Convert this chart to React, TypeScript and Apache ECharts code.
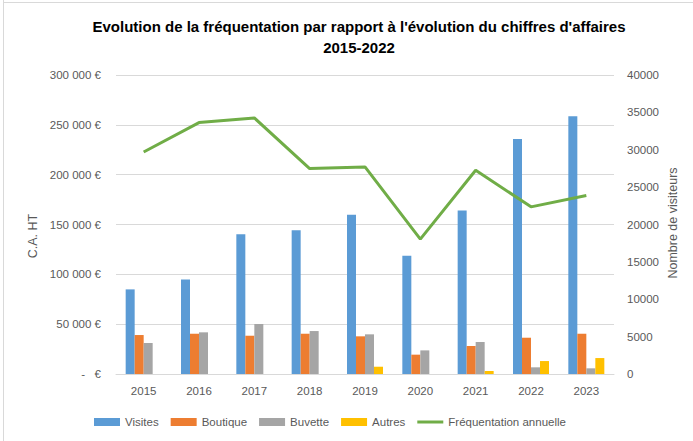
import React, { useEffect, useRef } from "react";
import * as echarts from "echarts";

const years = ["2015", "2016", "2017", "2018", "2019", "2020", "2021", "2022", "2023"];
const visites = [84900, 94900, 140300, 144300, 159700, 118600, 164000, 235900, 258600];
const boutique = [39100, 40400, 38400, 40400, 37800, 19400, 28100, 36400, 40400];
const buvette = [31100, 41800, 50100, 43100, 39800, 23700, 32100, 6700, 5700];
const autres = [0, 0, 0, 0, 7300, 0, 3000, 13000, 16000];
const frequentation = [29700, 33630, 34250, 27480, 27700, 18040, 27260, 22360, 23870];

const titleText = "Evolution de la fréquentation par rapport à l'évolution du chiffres d'affaires\n2015-2022";
const leftAxisName = "C.A. HT";
const rightAxisName = "Nombre de visiteurs";

const FONT = "'Liberation Sans', Arial, sans-serif";
const GRAY_TEXT = "#595959";

function euro(v: number): string {
  if (v === 0) return "-   €";
  return String(v).replace(/\B(?=(\d{3})+(?!\d))/g, " ") + " €";
}

export default function App() {
  const ref = useRef<HTMLDivElement>(null);
  useEffect(() => {
    if (!ref.current) return;
    const chart = echarts.init(ref.current, undefined, { renderer: "svg" });
    const barBase = { type: "bar" as const, barWidth: 9, barGap: "0%", yAxisIndex: 0 };
    chart.setOption({
      animation: false,
      backgroundColor: "#ffffff",
      textStyle: { fontFamily: FONT },
      title: {
        text: titleText,
        left: 354,
        top: 11,
        textAlign: "center",
        textStyle: { fontFamily: FONT, fontSize: 15, fontWeight: "bold", color: "#000", lineHeight: 21 },
      },
      grid: { left: 116, top: 75, width: 498, height: 299 },
      legend: {
        left: 89,
        top: 411,
        itemWidth: 26,
        itemHeight: 8,
        itemGap: 12,
        textStyle: { fontFamily: FONT, fontSize: 11.5, color: GRAY_TEXT },
        data: [
          { name: "Visites", icon: "rect" },
          { name: "Boutique", icon: "rect" },
          { name: "Buvette", icon: "rect" },
          { name: "Autres", icon: "rect" },
          { name: "Fréquentation annuelle", icon: "path://M0,0 L26,0 L26,3 L0,3 Z" },
        ],
      },
      xAxis: {
        type: "category",
        data: years,
        axisLine: { lineStyle: { color: "#d9d9d9", width: 1 } },
        axisTick: { show: false },
        axisLabel: { color: GRAY_TEXT, fontSize: 11.5, margin: 11, fontFamily: FONT },
      },
      yAxis: [
        {
          type: "value",
          min: 0,
          max: 300000,
          interval: 50000,
          axisLabel: { color: GRAY_TEXT, fontSize: 11.5, margin: 15, formatter: euro, fontFamily: FONT },
          splitLine: { lineStyle: { color: "#d9d9d9", width: 1 } },
          axisLine: { show: false },
          axisTick: { show: false },
        },
        {
          type: "value",
          min: 0,
          max: 40000,
          interval: 5000,
          position: "right",
          axisLabel: { color: GRAY_TEXT, fontSize: 11.5, margin: 13, fontFamily: FONT, formatter: (v: number) => String(v) },
          splitLine: { show: false },
          axisLine: { show: false },
          axisTick: { show: false },
        },
      ],
      series: [
        { ...barBase, name: "Visites", data: visites, itemStyle: { color: "#5b9bd5" } },
        { ...barBase, name: "Boutique", data: boutique, itemStyle: { color: "#ed7d31" } },
        { ...barBase, name: "Buvette", data: buvette, itemStyle: { color: "#a5a5a5" } },
        { ...barBase, name: "Autres", data: autres, itemStyle: { color: "#ffc000" } },
        {
          type: "line",
          name: "Fréquentation annuelle",
          yAxisIndex: 1,
          data: frequentation,
          symbol: "none",
          lineStyle: { color: "#70ad47", width: 3 },
          itemStyle: { color: "#70ad47" },
        },
      ],
      graphic: [
        { type: "line", shape: { x1: 3.5, y1: 0, x2: 3.5, y2: 441 }, style: { stroke: "#d9d9d9", lineWidth: 1 } },
        { type: "line", shape: { x1: 3, y1: 2.5, x2: 693, y2: 2.5 }, style: { stroke: "#d9d9d9", lineWidth: 1 } },
        {
          type: "text",
          x: 33,
          y: 236,
          rotation: Math.PI / 2,
          style: { text: leftAxisName, fill: GRAY_TEXT, font: `12.5px ${FONT}`, textAlign: "center", textVerticalAlign: "middle" },
        },
        {
          type: "text",
          x: 673,
          y: 223,
          rotation: Math.PI / 2,
          style: { text: rightAxisName, fill: GRAY_TEXT, font: `12.5px ${FONT}`, textAlign: "center", textVerticalAlign: "middle" },
        },
      ],
    });
    return () => chart.dispose();
  }, []);
  return <div ref={ref} style={{ position: "fixed", left: 0, top: 0, width: 693, height: 441 }} />;
}
